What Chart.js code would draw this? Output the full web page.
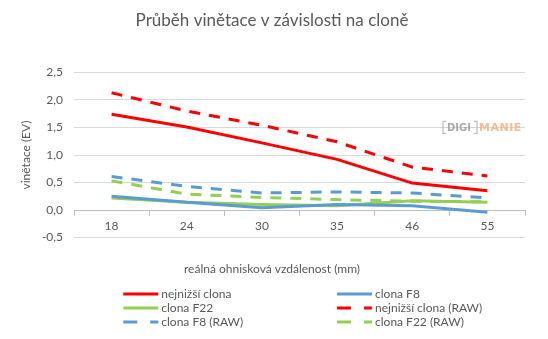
<!DOCTYPE html>
<html lang="cs">
<head>
<meta charset="UTF-8">
<title>Průběh vinětace</title>
<script src="https://cdn.jsdelivr.net/npm/chart.js"></script>
<style>
  body { margin: 0; background: #fff; }
  .chart { width: 548px; height: 339px; }
</style>
</head>
<body>
<div class="chart">
  <canvas id="grafVinetace"></canvas>
</div>

<script>
  // ohniskové vzdálenosti (mm)
  const ohniska = ['18', '24', '30', '35', '46', '55'];

  // vinětace v EV
  const nejnizsi    = [1.74, 1.51, 1.22, 0.92, 0.49, 0.35];
  const cloneF8     = [0.25, 0.14, 0.04, 0.10, 0.08, -0.04];
  const cloneF22    = [0.22, 0.14, 0.10, 0.08, 0.17, 0.14];
  const nejnizsiRaw = [2.13, 1.80, 1.54, 1.24, 0.78, 0.62];
  const cloneF8Raw  = [0.61, 0.43, 0.31, 0.33, 0.31, 0.22];
  const cloneF22Raw = [0.53, 0.29, 0.23, 0.19, 0.16, 0.15];

  const osaY = [-0.5, 0, 0.5, 1, 1.5, 2, 2.5];

  const pismo = 'Lato, "Liberation Sans", sans-serif';
  const seda = '#595959';

  const cervena = '#ff0000';
  const modra = '#5b9bd5';
  const zelena = '#92d050';
  const carky = [11, 9];

  function rada(nazev, data, barva, carkovane) {
    return {
      label: nazev,
      data: data,
      borderColor: barva,
      backgroundColor: barva,
      borderWidth: 3,
      borderDash: carkovane ? carky : [],
      pointRadius: 0,
      pointHoverRadius: 0,
      tension: 0,
      fill: false
    };
  }

  // legenda ve dvou sloupcich pod grafem
  const legendaPlugin = {
    id: 'legendaDvaSloupce',
    afterDraw(chart) {
      const ctx = chart.ctx;
      const sloupce = [chart.width * 0.225, chart.width * 0.615];
      const y0 = chart.height - 45;
      ctx.save();
      ctx.font = '12px ' + pismo;
      ctx.fillStyle = seda;
      ctx.textBaseline = 'middle';
      chart.data.datasets.forEach(function (ds, i) {
        const x = sloupce[i % 2];
        const y = y0 + Math.floor(i / 2) * 14;
        ctx.beginPath();
        ctx.strokeStyle = ds.borderColor;
        ctx.lineWidth = ds.borderWidth;
        ctx.setLineDash(ds.borderDash.length ? [14, 13] : []);
        ctx.moveTo(x, y);
        ctx.lineTo(x + 35, y);
        ctx.stroke();
        ctx.fillText(ds.label, x + 38, y);
      });
      ctx.restore();
    }
  };

  // logo v pravé části grafu
  const logoPlugin = {
    id: 'logoDigimanie',
    afterDatasetsDraw(chart) {
      const ctx = chart.ctx;
      const a = chart.chartArea;
      const x = a.right - 82;
      const y = chart.scales.y.getPixelForValue(1.5);
      ctx.save();
      ctx.globalAlpha = 0.85;
      ctx.textBaseline = 'middle';
      ctx.strokeStyle = '#b0b0b0';
      ctx.lineWidth = 1.2;
      // hranaté závorky kolem DIGI
      ctx.beginPath();
      ctx.moveTo(x + 3, y - 6); ctx.lineTo(x, y - 6); ctx.lineTo(x, y + 6); ctx.lineTo(x + 3, y + 6);
      ctx.moveTo(x + 31, y - 6); ctx.lineTo(x + 34, y - 6); ctx.lineTo(x + 34, y + 6); ctx.lineTo(x + 31, y + 6);
      ctx.stroke();
      ctx.font = 'bold 10px "DejaVu Sans", sans-serif';
      ctx.fillStyle = '#9a9a9a';
      ctx.fillText('DIGI', x + 4, y + 1);
      ctx.font = 'bold 11px "DejaVu Sans", sans-serif';
      ctx.letterSpacing = '0.5px';
      ctx.fillStyle = '#f4b183';
      ctx.fillText('MANIE', x + 36, y + 1);
      ctx.restore();
    }
  };

  const dados = {
    labels: ohniska,
    datasets: [
      rada('nejnižší clona', nejnizsi, cervena, false),
      rada('clona F8', cloneF8, modra, false),
      rada('clona F22', cloneF22, zelena, false),
      rada('nejnižší clona (RAW)', nejnizsiRaw, cervena, true),
      rada('clona F8 (RAW)', cloneF8Raw, modra, true),
      rada('clona F22 (RAW)', cloneF22Raw, zelena, true)
    ]
  };

  const config = {
    type: 'line',
    data: dados,
    plugins: [legendaPlugin, logoPlugin],
    options: {
      responsive: true,
      maintainAspectRatio: false,
      animation: false,
      events: [],
      layout: {
        padding: { left: 19, right: 23, top: 0, bottom: 55 }
      },
      plugins: {
        legend: { display: false },
        tooltip: { enabled: false },
        title: {
          display: true,
          text: 'Průběh vinětace v závislosti na cloně',
          color: seda,
          font: { family: pismo, size: 17, weight: 'normal' },
          padding: { top: 10, bottom: 42 }
        },
        subtitle: {
          display: true,
          position: 'bottom',
          text: 'reálná ohnisková vzdálenost (mm)',
          color: seda,
          font: { family: pismo, size: 12, weight: 'normal' },
          padding: { top: 24, bottom: 8 }
        }
      },
      scales: {
        x: {
          position: { y: 0 },
          offset: true,
          grid: {
            offset: true,
            drawOnChartArea: false,
            drawTicks: true,
            tickLength: 5,
            color: '#bfbfbf'
          },
          border: { display: true, color: '#bfbfbf' },
          ticks: {
            color: seda,
            font: { family: pismo, size: 12 },
            padding: 4,
            maxRotation: 0
          }
        },
        y: {
          min: osaY[0],
          max: osaY[osaY.length - 1],
          afterBuildTicks(scale) {
            scale.ticks = osaY.map(function (v) { return { value: v }; });
          },
          grid: { color: '#d9d9d9', drawTicks: false },
          border: { display: false },
          ticks: {
            color: seda,
            font: { family: pismo, size: 12 },
            padding: 11,
            callback: function (v) { return v.toFixed(1).replace('.', ','); }
          },
          title: {
            display: true,
            text: 'vinětace (EV)',
            color: seda,
            font: { family: pismo, size: 12 },
            padding: { top: 0, bottom: 6 }
          },
          afterFit(scale) {
            scale.width = 55;
          }
        }
      }
    }
  };

  const grafVinetace = new Chart(document.getElementById('grafVinetace'), config);
</script>
</body>
</html>
